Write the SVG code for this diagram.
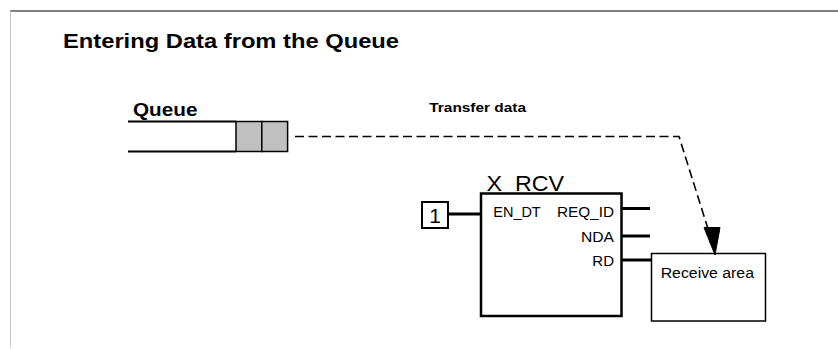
<svg xmlns="http://www.w3.org/2000/svg" width="838" height="349" viewBox="0 0 838 349">
<style>
text{font-family:"Liberation Sans",Arial,sans-serif;fill:#000}
.b{font-weight:bold}
.pin{stroke:#000;stroke-width:3;fill:none}
.box{fill:#fff;stroke:#000}
</style>
<rect width="838" height="349" fill="#fff"/>
<line x1="10" y1="11" x2="838" y2="11" stroke="#000" stroke-width="1"/>
<line x1="10.5" y1="11" x2="10.5" y2="348" stroke="#c8c8c8" stroke-width="1"/>
<text class="b" x="63" y="47.7" font-size="21" textLength="336" lengthAdjust="spacingAndGlyphs">Entering Data from the Queue</text>

<g id="queue">
<text class="b" x="133" y="115.7" font-size="19" textLength="64.5" lengthAdjust="spacingAndGlyphs">Queue</text>
<line x1="128" y1="121.5" x2="236" y2="121.5" stroke="#000" stroke-width="2"/>
<line x1="128" y1="151.5" x2="236" y2="151.5" stroke="#000" stroke-width="2"/>
<rect x="236" y="121.5" width="25.8" height="30" fill="#c0c0c0" stroke="#000" stroke-width="1.5"/>
<rect x="261.8" y="121.5" width="25.8" height="30" fill="#c0c0c0" stroke="#000" stroke-width="1.5"/>
</g>

<g id="const1">
<rect class="box" x="422" y="202" width="26" height="26" stroke-width="2"/>
<text x="435" y="223.3" font-size="21" text-anchor="middle">1</text>
</g>

<g id="x_rcv">
<text x="486.5" y="190.7" font-size="22" textLength="77.5" lengthAdjust="spacingAndGlyphs">X_RCV</text>
<rect class="box" x="481" y="193.5" width="140.5" height="122.5" stroke-width="2.5"/>
<text x="493.3" y="216.7" font-size="14.5" textLength="47.4" lengthAdjust="spacingAndGlyphs">EN_DT</text>
<text x="614" y="216.7" font-size="15" text-anchor="end" textLength="57" lengthAdjust="spacingAndGlyphs">REQ_ID</text>
<text x="614" y="242.3" font-size="15" text-anchor="end" textLength="33" lengthAdjust="spacingAndGlyphs">NDA</text>
<text x="614" y="265.7" font-size="15" text-anchor="end">RD</text>
</g>

<g id="receive_area">
<rect class="box" x="651.5" y="253.5" width="114" height="67.5" stroke-width="1.5"/>
<text x="660.7" y="278.3" font-size="14" textLength="93.3" lengthAdjust="spacingAndGlyphs">Receive area</text>
</g>

<g id="connectors">
<line class="pin" x1="448" y1="214" x2="481" y2="214"/>
<line class="pin" x1="621.5" y1="208.5" x2="650" y2="208.5"/>
<line class="pin" x1="621.5" y1="236" x2="650" y2="236"/>
<line class="pin" x1="621.5" y1="260" x2="651.5" y2="260"/>
<polyline points="295,136.5 679,136.5 709,232" fill="none" stroke="#000" stroke-width="1.6" stroke-dasharray="9,4.5"/>
<polygon points="704,227.5 720,227.5 715,255" fill="#000" stroke="#000" stroke-width="1"/>
<text class="b" x="429.3" y="111.7" font-size="12.5" textLength="96.7" lengthAdjust="spacingAndGlyphs">Transfer data</text>
</g>
</svg>
